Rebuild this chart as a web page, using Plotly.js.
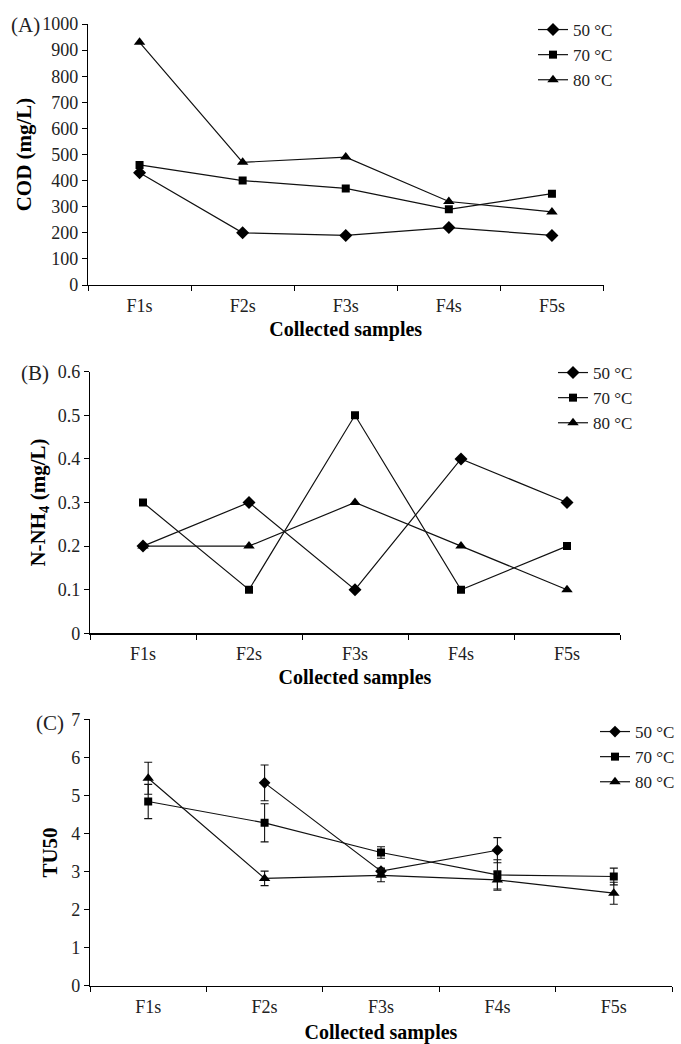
<!DOCTYPE html>
<html>
<head>
<meta charset="utf-8">
<script src="https://cdn.plot.ly/plotly-3.0.1.min.js"></script>
<style>html,body{margin:0;padding:0;background:#fff;}#chart{width:681px;height:1044px;}</style>
</head>
<body>
<div id="chart"></div>
<script>
// ---- Data ----
const categories = ['F1s', 'F2s', 'F3s', 'F4s', 'F5s'];
const seriesNames = ['50 °C', '70 °C', '80 °C'];

// (A) COD (mg/L)
const cod50 = [430, 200, 190, 220, 190];
const cod70 = [460, 400, 370, 290, 350];
const cod80 = [930, 470, 490, 320, 280];

// (B) N-NH4 (mg/L)
const nh50 = [0.2, 0.3, 0.1, 0.4, 0.3];
const nh70 = [0.3, 0.1, 0.5, 0.1, 0.2];
const nh80 = [0.2, 0.2, 0.3, 0.2, 0.1];

// (C) TU50 with error bars
const tu50 = [null, 5.33, 3.01, 3.56, null];
const tu50err = [0, 0.47, 0.08, 0.33, 0];
const tu70 = [4.84, 4.28, 3.50, 2.91, 2.87];
const tu70err = [0.45, 0.50, 0.15, 0.40, 0.22];
const tu80 = [5.45, 2.82, 2.90, 2.78, 2.43];
const tu80err = [0.42, 0.19, 0.17, 0.24, 0.29];

// ---- Styling ----
const FONT = '"Liberation Serif", "Times New Roman", Times, serif';
const W = 681, H = 1044;
const px = v => v / W;
const py = v => 1 - v / H;
const symbols = ['diamond', 'square', 'triangle-up'];
const sizesAB = [10, 8, 10];
const sizesC = [9, 8, 10];

function mk(y, i, xa, ya, leg, sizes, err) {
  const t = {
    type: 'scatter', mode: 'lines+markers',
    x: categories, y: y, name: seriesNames[i],
    xaxis: xa, yaxis: ya, legend: leg,
    line: {color: '#111', width: 1.2},
    marker: {symbol: symbols[i], size: sizes[i], color: '#000'},
    connectgaps: false,
    hoverinfo: 'x+y'
  };
  if (err) {
    t.error_y = {type: 'data', array: err, visible: true, color: '#111', thickness: 1.1, width: 4};
  }
  return t;
}

const traces = [
  mk(cod50, 0, 'x', 'y', 'legend', sizesAB),
  mk(cod70, 1, 'x', 'y', 'legend', sizesAB),
  mk(cod80, 2, 'x', 'y', 'legend', sizesAB),
  mk(nh50, 0, 'x2', 'y2', 'legend2', sizesAB),
  mk(nh70, 1, 'x2', 'y2', 'legend2', sizesAB),
  mk(nh80, 2, 'x2', 'y2', 'legend2', sizesAB),
  mk(tu50, 0, 'x3', 'y3', 'legend3', sizesC, tu50err),
  mk(tu70, 1, 'x3', 'y3', 'legend3', sizesC, tu70err),
  mk(tu80, 2, 'x3', 'y3', 'legend3', sizesC, tu80err)
];

function xax(d0, d1, anchor, standoff) {
  return {
    domain: [px(d0), px(d1)], anchor: anchor, type: 'category',
    range: [-0.5, 4.5], tickson: 'boundaries', ticks: 'outside', ticklen: 5,
    tickwidth: 1, tickcolor: '#000', showline: true, linecolor: '#000', linewidth: 1.2,
    showgrid: false, zeroline: false, ticklabelstandoff: 4,
    tickfont: {family: FONT, size: 18, color: '#222'},
    title: {text: '<b>Collected samples</b>', font: {family: FONT, size: 20, color: '#000'}, standoff: standoff}
  };
}
function yax(d0, d1, anchor, range, dtick, title, standoff) {
  return {
    domain: [py(d1), py(d0)], anchor: anchor, range: range, dtick: dtick,
    ticks: 'outside', ticklen: 5, tickwidth: 1, tickcolor: '#000',
    showline: true, linecolor: '#000', linewidth: 1.2, showgrid: false, zeroline: false,
    tickfont: {family: FONT, size: 18, color: '#222'},
    title: {text: title, font: {family: FONT, size: 21, color: '#000'}, standoff: standoff}
  };
}
function leg(x, ytop) {
  return {
    x: px(x), y: py(ytop), xanchor: 'left', yanchor: 'top',
    bgcolor: 'rgba(0,0,0,0)', borderwidth: 0,
    font: {family: FONT, size: 17, color: '#222'}
  };
}

const layout = {
  width: W, height: H,
  margin: {l: 0, r: 0, t: 0, b: 0, autoexpand: false},
  paper_bgcolor: '#fff', plot_bgcolor: '#fff',
  showlegend: true,
  font: {family: FONT, color: '#000'},
  xaxis: xax(88, 603.5, 'y', 7),
  yaxis: yax(24, 285, 'x', [0, 1000], 100, '<b>COD (mg/L)</b>', 4),
  xaxis2: xax(90, 620, 'y2', 7),
  yaxis2: yax(371.7, 633.3, 'x2', [0, 0.6], 0.1, '<b>N-NH<sub>4</sub> (mg/L)</b>', 6),
  xaxis3: xax(90, 672, 'y3', 10),
  yaxis3: yax(719.3, 985.7, 'x3', [0, 7], 1, '<b>TU50</b>', 7),
  legend: leg(533, 12),
  legend2: leg(553, 355),
  legend3: leg(595, 714),
  annotations: [
    {text: '(A)', x: px(25), y: py(25), xref: 'paper', yref: 'paper', showarrow: false, xanchor: 'center', yanchor: 'middle', font: {family: FONT, size: 21, color: '#222'}},
    {text: '(B)', x: px(34.5), y: py(373), xref: 'paper', yref: 'paper', showarrow: false, xanchor: 'center', yanchor: 'middle', font: {family: FONT, size: 21, color: '#222'}},
    {text: '(C)', x: px(50.5), y: py(723), xref: 'paper', yref: 'paper', showarrow: false, xanchor: 'center', yanchor: 'middle', font: {family: FONT, size: 21, color: '#222'}}
  ]
};

Plotly.newPlot('chart', traces, layout, {displayModeBar: false, staticPlot: true});
</script>
</body>
</html>
